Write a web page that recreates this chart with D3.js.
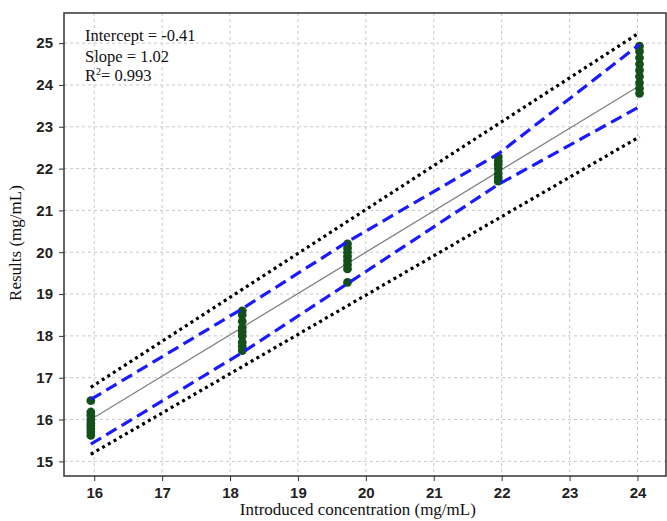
<!DOCTYPE html>
<meta charset="utf-8">
<style>
body { margin: 0; background: #fff; }
.grid line { stroke: #c8c8c8; stroke-dasharray: 3,3; }
.axis text { font-family: Arial, "Liberation Sans", sans-serif; font-size: 15px; font-weight: bold; fill: #222; }
.axis path, .axis line { stroke: #333; }
.title { font-family: "Times New Roman", "Liberation Serif", serif; font-size: 17px; fill: #111; }
.note { font-family: "Times New Roman", "Liberation Serif", serif; font-size: 16.5px; fill: #111; }
</style>
<svg width="667" height="521"></svg>
<script src="https://cdn.jsdelivr.net/npm/d3@7"></script>
<script>
// ticks
var xTicks = [16, 17, 18, 19, 20, 21, 22, 23, 24];
var yTicks = [15, 16, 17, 18, 19, 20, 21, 22, 23, 24, 25];

// measured results at each introduced concentration
var levels = [15.95, 18.18, 19.73, 21.95, 24.03];
var results = [
  [16.45, 16.18, 16.1, 16.0, 15.92, 15.85, 15.78, 15.7, 15.62],
  [18.6, 18.5, 18.35, 18.2, 18.1, 18.0, 17.85, 17.75, 17.65],
  [20.2, 20.1, 20.0, 19.9, 19.8, 19.7, 19.6, 19.28],
  [22.28, 22.18, 22.1, 22.0, 21.88, 21.78, 21.7],
  [24.93, 24.8, 24.65, 24.5, 24.35, 24.2, 24.05, 23.92, 23.8]
];

// blue dashed band (upper / lower)
var blueUpper = [16.48, 18.65, 20.25, 22.35, 24.97];
var blueLower = [15.41, 17.6, 19.25, 21.62, 23.48];

// regression line and black dotted limits at first and last level
var fitX = [15.95, 24.03];
var fitY = [16.0, 23.98];
var dotUpper = [16.77, 25.25];
var dotLower = [15.17, 22.76];

var svg = d3.select("svg"),
    margin = {top: 13, right: 1, bottom: 45, left: 64},
    width = +svg.attr("width") - margin.left - margin.right,
    height = +svg.attr("height") - margin.top - margin.bottom,
    g = svg.append("g").attr("transform", "translate(" + margin.left + "," + margin.top + ")");

var x = d3.scaleLinear().domain([15.555, 24.42]).range([0, width]);
var y = d3.scaleLinear().domain([14.65, 25.72]).range([height, 0]);

// grid
g.append("g").attr("class", "grid")
  .selectAll("line").data(xTicks).enter().append("line")
    .attr("x1", function(d) { return x(d); }).attr("x2", function(d) { return x(d); })
    .attr("y1", 0).attr("y2", height);
g.append("g").attr("class", "grid")
  .selectAll("line").data(yTicks).enter().append("line")
    .attr("y1", function(d) { return y(d); }).attr("y2", function(d) { return y(d); })
    .attr("x1", 0).attr("x2", width);

// frame
g.append("rect")
  .attr("width", width).attr("height", height)
  .attr("fill", "none").attr("stroke", "#333").attr("stroke-width", 1.5);

g.append("g")
  .attr("class", "axis")
  .attr("transform", "translate(0," + height + ")")
  .call(d3.axisBottom(x).tickValues(xTicks).tickSize(5).tickPadding(6))
  .call(function(s) { s.select(".domain").remove(); });

g.append("g")
  .attr("class", "axis")
  .call(d3.axisLeft(y).tickValues(yTicks).tickSize(5).tickPadding(6))
  .call(function(s) { s.select(".domain").remove(); });

var line = d3.line()
    .x(function(d) { return x(d[0]); })
    .y(function(d) { return y(d[1]); });

// black dotted limits
[dotUpper, dotLower].forEach(function(vals) {
  g.append("path")
    .datum(d3.zip(fitX, vals))
    .attr("d", line)
    .attr("fill", "none")
    .attr("stroke", "#000")
    .attr("stroke-width", 3.2)
    .attr("stroke-dasharray", "3,3.6");
});

// regression line
g.append("path")
  .datum(d3.zip(fitX, fitY))
  .attr("d", line)
  .attr("fill", "none")
  .attr("stroke", "#808080")
  .attr("stroke-width", 1.3);

// points
var pts = [];
levels.forEach(function(lv, i) {
  results[i].forEach(function(v) { pts.push([lv, v]); });
});
g.append("g").selectAll("circle").data(pts).enter().append("circle")
  .attr("cx", function(d) { return x(d[0]); })
  .attr("cy", function(d) { return y(d[1]); })
  .attr("r", 4.4)
  .attr("fill", "#14501a");

// blue dashed band
[blueUpper, blueLower].forEach(function(vals) {
  g.append("path")
    .datum(d3.zip(levels, vals))
    .attr("d", line)
    .attr("fill", "none")
    .attr("stroke", "#1a1aff")
    .attr("stroke-width", 3.2)
    .attr("stroke-dasharray", "12,6");
});

// annotation
var note = g.append("text").attr("class", "note").attr("x", 21).attr("y", 28);
note.append("tspan").attr("x", 21).text("Intercept = -0.41");
note.append("tspan").attr("x", 21).attr("dy", 21).text("Slope = 1.02");
var r2 = note.append("tspan").attr("x", 21).attr("dy", 19).text("R");
r2.append("tspan").attr("dy", -6).attr("font-size", "10px").text("2");
r2.append("tspan").attr("dy", 6).text("= 0.993");

// axis titles
svg.append("text").attr("class", "title")
  .attr("text-anchor", "middle")
  .attr("x", margin.left + x(20) - 8)
  .attr("y", 515)
  .text("Introduced concentration (mg/mL)");

svg.append("text").attr("class", "title")
  .attr("text-anchor", "middle")
  .attr("transform", "translate(21," + (margin.top + y(20.22)) + ") rotate(-90)")
  .text("Results (mg/mL)");
</script>
